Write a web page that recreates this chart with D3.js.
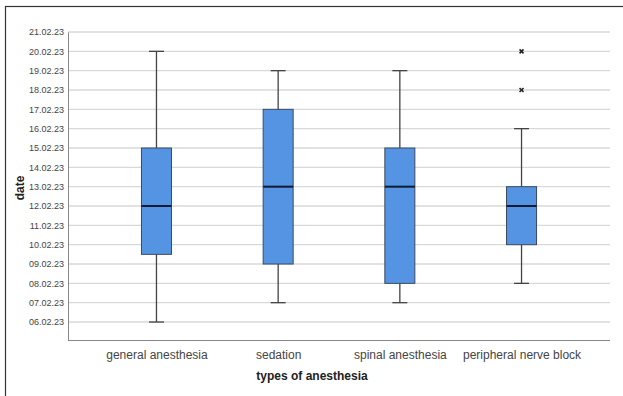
<!DOCTYPE html>
<html lang="en">
<meta charset="UTF-8">
<script src="https://d3js.org/d3.v7.min.js"></script>
<style>
body { margin: 0; background: #fff; }
text { font-family: Arial, "Liberation Sans", sans-serif; }
.axis-title { font-size: 12px; font-weight: bold; fill: #222; }
</style>
<body>
<svg width="623" height="396"></svg>
<script>
// categories and five-number summaries (day of Feb 2023)
const categories = ['general anesthesia', 'sedation', 'spinal anesthesia', 'peripheral nerve block'];
const whiskerLow = [6, 7, 7, 8];
const q1 = [9.5, 9, 8, 10];
const median = [12, 13, 13, 12];
const q3 = [15, 17, 15, 13];
const whiskerHigh = [20, 19, 19, 16];
const outliers = [[], [], [], [18, 20]];
const tickDays = [6, 7, 8, 9, 10, 11, 12, 13, 14, 15, 16, 17, 18, 19, 20, 21];

const svg = d3.select('svg');
const plotLeft = 68, plotRight = 610, plotTop = 32, plotBottom = 340;

// frame (runs off the right and bottom edges)
svg.append('rect')
  .attr('x', 5.5).attr('y', 6.5)
  .attr('width', 640).attr('height', 400)
  .attr('fill', 'none').attr('stroke', '#333').attr('stroke-width', 1.2);

const y = d3.scaleLinear().domain([5.07, 21]).range([plotBottom, plotTop]);
const x = d3.scalePoint().domain(categories).range([plotLeft, plotRight]).padding(0.727);

const fmt = d => String(d).padStart(2, '0') + '.02.23';

// gridlines
svg.append('g').selectAll('line').data(tickDays).join('line')
  .attr('x1', plotLeft).attr('x2', plotRight)
  .attr('y1', d => y(d)).attr('y2', d => y(d))
  .attr('stroke', '#d9d9d9').attr('stroke-width', 1.3);

// y axis
const yAxisG = svg.append('g')
  .attr('transform', `translate(${plotLeft},0)`)
  .call(d3.axisLeft(y).tickValues(tickDays).tickFormat(fmt).tickSize(0).tickPadding(4));
yAxisG.select('.domain').attr('stroke', '#888');
yAxisG.selectAll('.tick text').attr('font-size', 9).attr('fill', '#444');

// x axis
const xAxisG = svg.append('g')
  .attr('transform', `translate(0,${plotBottom})`)
  .call(d3.axisBottom(x).tickSize(0).tickPadding(10));
xAxisG.select('.domain').attr('d', `M${plotLeft},0.5H${plotRight}`).attr('stroke', '#888');
xAxisG.selectAll('.tick text').attr('font-size', 12).attr('fill', '#444');

// boxes
const data = categories.map((c, i) => ({
  c, lo: whiskerLow[i], q1: q1[i], med: median[i], q3: q3[i], hi: whiskerHigh[i], out: outliers[i]
}));
const boxW = 30, capW = 15;
const g = svg.append('g').selectAll('g').data(data).join('g')
  .attr('transform', d => `translate(${x(d.c)},0)`);

g.append('line')
  .attr('y1', d => y(d.lo)).attr('y2', d => y(d.hi))
  .attr('stroke', '#444').attr('stroke-width', 1.3);
g.append('line')
  .attr('x1', -capW / 2).attr('x2', capW / 2)
  .attr('y1', d => y(d.lo)).attr('y2', d => y(d.lo))
  .attr('stroke', '#444').attr('stroke-width', 1.3);
g.append('line')
  .attr('x1', -capW / 2).attr('x2', capW / 2)
  .attr('y1', d => y(d.hi)).attr('y2', d => y(d.hi))
  .attr('stroke', '#444').attr('stroke-width', 1.3);
g.append('rect')
  .attr('x', -boxW / 2).attr('width', boxW)
  .attr('y', d => y(d.q3)).attr('height', d => y(d.q1) - y(d.q3))
  .attr('fill', '#5494e3').attr('stroke', '#3a4a60').attr('stroke-width', 1);
g.append('line')
  .attr('x1', -boxW / 2).attr('x2', boxW / 2)
  .attr('y1', d => y(d.med)).attr('y2', d => y(d.med))
  .attr('stroke', '#111a33').attr('stroke-width', 2);

// outliers
g.selectAll('path.out').data(d => d.out).join('path')
  .attr('class', 'out')
  .attr('d', d3.symbol(d3.symbolX, 12))
  .attr('transform', d => `translate(0,${y(d)})`)
  .attr('stroke', '#222').attr('stroke-width', 1.6).attr('fill', 'none');

// axis titles
svg.append('text').attr('class', 'axis-title')
  .attr('text-anchor', 'middle')
  .attr('transform', `translate(24,${(plotTop + plotBottom) / 2 + 2}) rotate(-90)`)
  .text('date');
svg.append('text').attr('class', 'axis-title')
  .attr('text-anchor', 'middle')
  .attr('x', 312).attr('y', 380)
  .text('types of anesthesia');
</script>
</body>
</html>
